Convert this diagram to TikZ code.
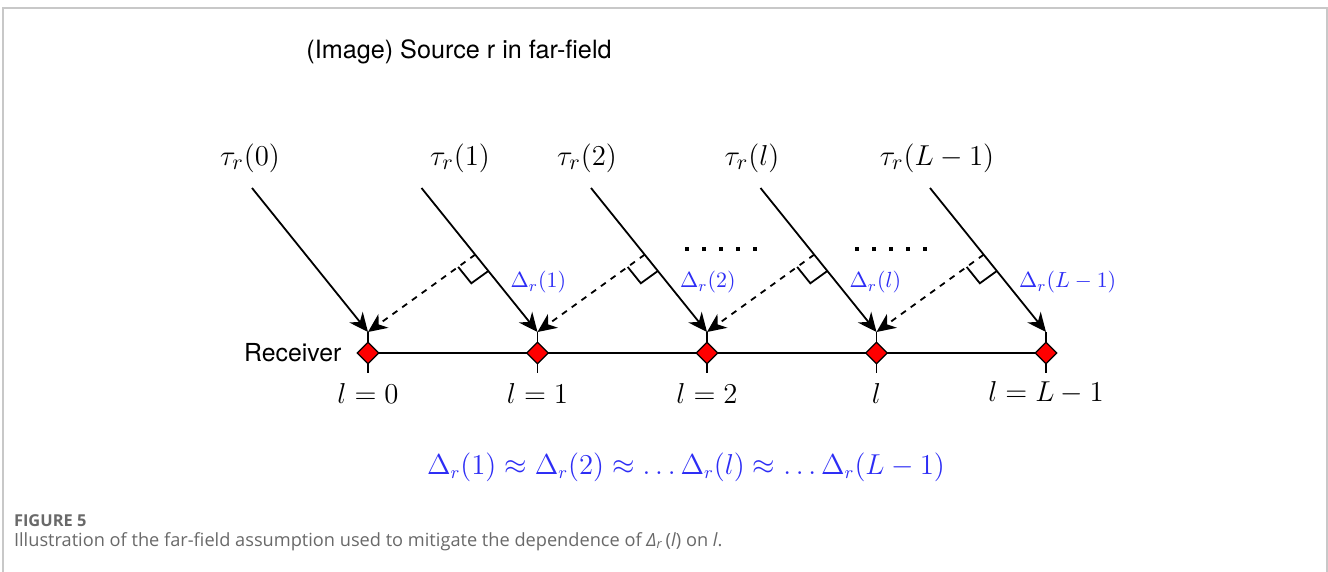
\documentclass[tikz,border=0pt]{standalone}
\usepackage{fontspec}
\setmainfont{TeX Gyre Heros}
\newfontfamily\capfont{Open Sans}
\usetikzlibrary{arrows.meta,calc,shapes.geometric,positioning}
\definecolor{deltablue}{RGB}{45,45,245}
\definecolor{framegray}{RGB}{200,200,200}
\definecolor{capgray}{RGB}{105,105,105}

\begin{document}
\begin{tikzpicture}[x=0.5pt,y=-0.5pt,
  ray/.style={line width=0.9pt,-{Stealth[length=9.5pt,width=8.5pt,inset=3pt]}},
  proj/.style={ray,dashed},
  rx/.style={diamond,draw,fill=red,line width=0.6pt,minimum size=11pt,inner sep=0pt},
  tau/.style={font=\fontsize{15.5}{18}\selectfont},
  dlt/.style={text=deltablue,font=\fontsize{11}{13}\selectfont}]
\useasboundingbox (0,0) rectangle (1328,572);
\draw[framegray,line width=0.75pt] (3,572) -- (3,8) -- (1327,8) -- (1327,572);

\node[font=\fontsize{12.6}{15}\selectfont] (title) at (459,52) {(Image) Source r in far-field};

% receivers
\draw[line width=0.9pt] (368,353) -- (1046,353);
\foreach \i/\lab in {0/{l=0},1/{l=1},2/{l=2},3/{l},4/{l=L-1}} {
  \coordinate (tip\i) at ({368+169.5*\i},332);
  \draw[line width=0.9pt] (tip\i) -- ++(0,41);
  \node[rx] (rx\i) at ({368+169.5*\i},353) {};
  \node[tau] (l\i) at ({368+169.5*\i},393) {$\lab$};
}
\node[font=\fontsize{12.4}{15}\selectfont,left=4pt of rx0] (recv) {Receiver};

% incoming rays
\foreach \i/\lab/\lx in {0/0/250,1/1/460,2/2/587,3/l/752,4/L-1/937} {
  \node[tau] (tau\i) at (\lx,158) {$\tau_r(\lab)$};
  \coordinate (src\i) at ($(tip\i)+(-116,-144)$);
  \draw[ray] (src\i) -- (tip\i);
}

% path differences
\foreach \i/\lab in {1/1,2/2,3/l,4/L-1} {
  \pgfmathtruncatemacro\j{\i-1}
  \coordinate (perp\i) at ($(src\i)!(tip\j)!(tip\i)$);
  \coordinate (foot\i) at ($(perp\i)!3.5pt!(tip\i)$);
  \coordinate (ca\i) at ($(foot\i)!10.5pt!(tip\i)$);
  \coordinate (cb\i) at ($(foot\i)!10.5pt!(tip\j)$);
  \draw[proj] (foot\i) -- (tip\j);
  \draw[line width=0.9pt] (cb\i) -- ($(ca\i)+(cb\i)-(foot\i)$) -- (ca\i);
  \path (foot\i) -- (tip\i) node[dlt,pos=0.36,right=3pt] (d\i) {$\Delta_r(\lab)$};
}

% dots
\foreach \x in {687,704,721,738,755,857,874,891,908,925}
  \fill (\x-2,247) rectangle ++(4,4);

\node[text=deltablue,font=\fontsize{13.5}{16}\selectfont] (approx) at (686,467)
  {$\Delta_r(1)\approx\Delta_r(2)\approx\ldots\Delta_r(l)\approx\ldots\Delta_r(L-1)$};

% caption
\node[anchor=west,text=capgray,font=\capfont\bfseries\fontsize{8.2}{10}\selectfont] (fig) at (7,521) {FIGURE 5};
\node[anchor=west,text=capgray,font=\capfont\fontsize{9.1}{11}\selectfont] (cap) at (7,542)
  {Illustration of the far-field assumption used to mitigate the dependence of \textit{Δ\textsubscript{r}}\,(\textit{l}) on \textit{l}.};
\end{tikzpicture}
\end{document}
